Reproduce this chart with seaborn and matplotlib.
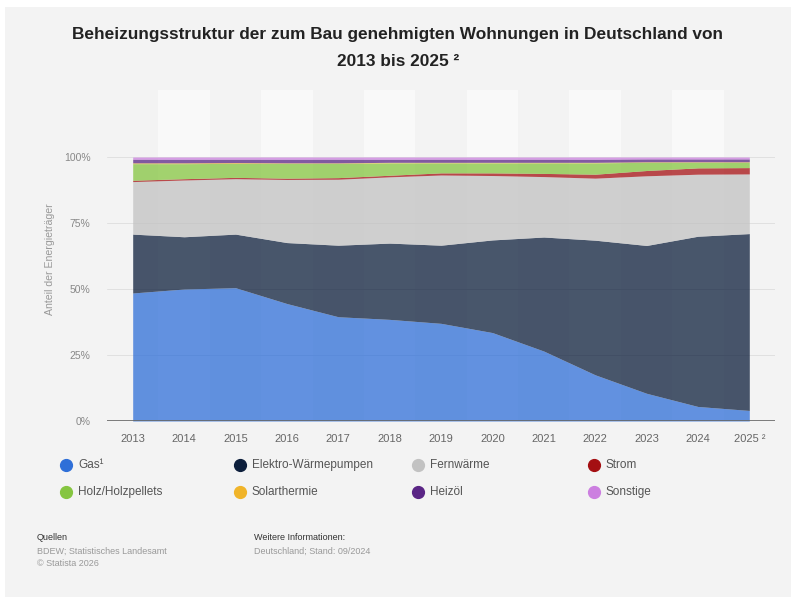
import matplotlib
matplotlib.use("Agg")
import matplotlib.pyplot as plt
import seaborn as sns
import numpy as np
from matplotlib.lines import Line2D
from matplotlib.patches import Rectangle

years = [2013, 2014, 2015, 2016, 2017, 2018, 2019, 2020, 2021, 2022, 2023, 2024, 2025]
year_labels = ["2013", "2014", "2015", "2016", "2017", "2018", "2019", "2020",
               "2021", "2022", "2023", "2024", "2025 ²"]

gas = [48.5, 50.0, 50.5, 44.5, 39.5, 38.5, 37.0, 33.5, 26.5, 17.5, 10.5, 5.5, 4.0]
waermepumpen = [22.3, 19.8, 20.3, 23.1, 27.1, 28.9, 29.6, 35.1, 43.2, 51.0, 56.0, 64.5, 67.0]
fernwaerme = [19.9, 21.5, 21.0, 23.9, 25.0, 25.1, 26.6, 24.4, 22.9, 23.5, 26.4, 23.5, 22.6]
strom = [0.5, 0.5, 0.5, 0.5, 0.6, 0.6, 0.8, 1.0, 1.2, 1.5, 2.0, 2.4, 2.4]
holz = [6.3, 5.7, 5.3, 5.6, 5.4, 4.7, 3.8, 3.8, 4.0, 4.3, 3.1, 2.1, 2.0]
solarthermie = [0.3, 0.3, 0.3, 0.2, 0.2, 0.2, 0.2, 0.2, 0.2, 0.2, 0.2, 0.2, 0.2]
heizoel = [1.4, 1.4, 1.3, 1.4, 1.4, 1.2, 1.2, 1.2, 1.2, 1.2, 1.1, 1.1, 1.1]
sonstige = [0.8, 0.8, 0.8, 0.8, 0.8, 0.8, 0.8, 0.8, 0.8, 0.8, 0.7, 0.7, 0.7]

series_names = ["Gas¹", "Elektro-Wärmepumpen", "Fernwärme", "Strom",
                "Holz/Holzpellets", "Solarthermie", "Heizöl", "Sonstige"]
series_values = [gas, waermepumpen, fernwaerme, strom, holz, solarthermie, heizoel, sonstige]
colors = ["#2f6fd8", "#0d1f3c", "#c2c2c2", "#a40f12",
          "#85c540", "#f0b429", "#5a2585", "#cc7fe0"]

y_ticks = [0, 25, 50, 75, 100]
y_tick_labels = ["0%", "25%", "50%", "75%", "100%"]

sns.set_theme(style="white")
plt.rcParams["font.family"] = ["Liberation Sans", "DejaVu Sans"]

W, H = 796, 597
BG = "#f3f3f3"
fig = plt.figure(figsize=(W / 100, H / 100), dpi=100)
fig.patch.set_facecolor("white")
fig.add_artist(Rectangle((5 / W, 0.0), (W - 10) / W, (H - 7) / H,
                         transform=fig.transFigure, facecolor=BG,
                         edgecolor="none", zorder=-10))

left, right = 107 / W, 775 / W
bottom, top = (H - 421) / H, (H - 90) / H
ax = fig.add_axes([left, bottom, right - left, top - bottom])
ax.set_facecolor(BG)

ax.set_xlim(2012.5, 2025.5)
ax.set_ylim(0, 125.4)

for i, yr in enumerate(years):
    if i % 2 == 1:
        ax.axvspan(yr - 0.5, yr + 0.5, color="#f9f9f9", zorder=0, lw=0)

for t in y_ticks[1:]:
    ax.axhline(t, color="#e0e0e0", lw=0.7, zorder=1)
ax.axhline(0, color="#666666", lw=1.2, zorder=5)

ax.stackplot(years, *series_values, colors=colors, alpha=0.75, lw=0, zorder=3)

for s in ax.spines.values():
    s.set_visible(False)

ax.set_xticks(years)
ax.set_xticklabels(year_labels, fontsize=8, color="#666666")
ax.set_yticks(y_ticks)
ax.set_yticklabels(y_tick_labels, fontsize=7.5, color="#888888")
ax.tick_params(axis="both", length=0)
ax.tick_params(axis="x", pad=9)
ax.tick_params(axis="y", pad=12)
ax.set_ylabel("Anteil der Energieträger", fontsize=7.6, color="#999999")
ax.yaxis.set_label_coords(-0.078, 0.49)

fig.text(0.5, 1 - 35 / H, "Beheizungsstruktur der zum Bau genehmigten Wohnungen in Deutschland von",
         ha="center", va="center", fontsize=12.4, fontweight="bold", color="#222222")
fig.text(0.5, 1 - 62 / H, "2013 bis 2025 ²",
         ha="center", va="center", fontsize=12.4, fontweight="bold", color="#222222")

col_x = [66, 240, 418, 594]
row_y = [465, 492]
for i, (name, c) in enumerate(zip(series_names, colors)):
    col = i % 4
    row = i // 4
    x = col_x[col]
    y = row_y[row]
    fig.add_artist(Line2D([x / W], [1 - y / H], marker="o", markersize=8.5,
                          color=c, linestyle="none", transform=fig.transFigure))
    fig.text((x + 12) / W, 1 - y / H, name, ha="left", va="center",
             fontsize=8.5, color="#555555")

fig.text(37 / W, 1 - 537 / H, "Quellen", fontsize=6.5, color="#333333", va="center")
fig.text(37 / W, 1 - 551 / H, "BDEW; Statistisches Landesamt", fontsize=6.5, color="#999999", va="center")
fig.text(37 / W, 1 - 564 / H, "© Statista 2026", fontsize=6.5, color="#999999", va="center")
fig.text(254 / W, 1 - 537 / H, "Weitere Informationen:", fontsize=6.5, color="#333333", va="center")
fig.text(254 / W, 1 - 551 / H, "Deutschland; Stand: 09/2024", fontsize=6.5, color="#999999", va="center")

fig.savefig("out.png", dpi=100, facecolor=fig.get_facecolor())
